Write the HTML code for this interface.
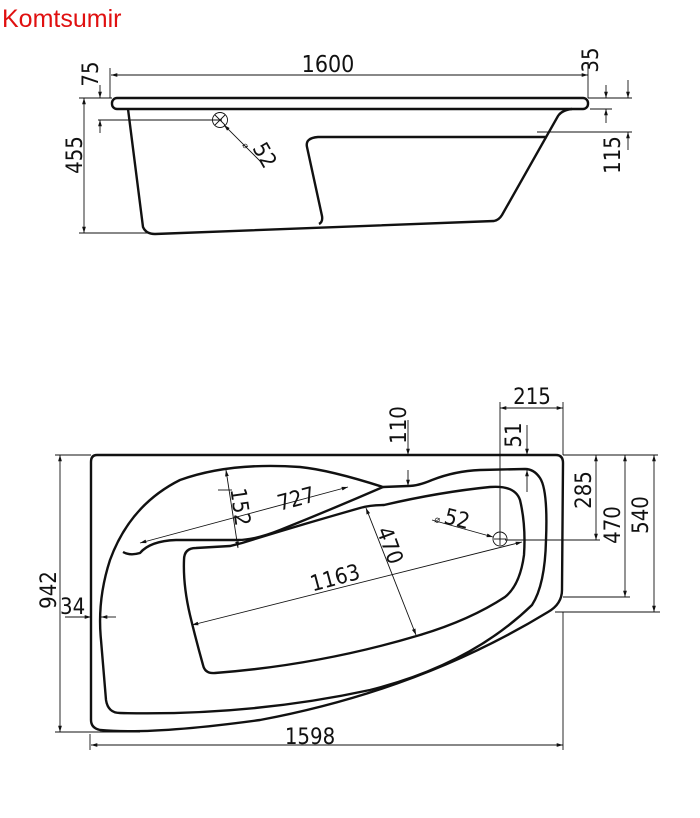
<!DOCTYPE html>
<html><head><meta charset="utf-8"><style>
html,body{margin:0;padding:0;background:#fff;width:700px;height:818px;overflow:hidden}
svg{display:block}
text{font-family:"DejaVu Sans Condensed","DejaVu Sans","Liberation Sans",sans-serif;fill:#111}
</style></head><body>
<svg width="700" height="818" viewBox="0 0 700 818" xmlns="http://www.w3.org/2000/svg">
<defs>
<marker id="a" viewBox="0 0 10 10" refX="10" refY="5" markerWidth="7" markerHeight="7" orient="auto-start-reverse"><path d="M0,2 L10,5 L0,8 z" fill="#111"/></marker>
</defs>
<text x="2" y="27" style="font-family:'Liberation Sans',sans-serif;font-size:25px;fill:#e01010">Komtsumir</text>

<!-- TOP VIEW -->
<g fill="none" stroke="#111" stroke-width="2.4">
<rect x="112" y="98" width="476" height="11" rx="5"/>
<path d="M128,109 L143,227 Q146,234 155,234 L494,221 Q499,220 502,215 L558,116 Q562,110 572,109"/>
<path d="M319,224 Q323,222 322,216 L307,147 Q305,138 318,137 L547,137"/>
</g>
<g fill="none" stroke="#111" stroke-width="0.9">
<line x1="111" y1="75" x2="588" y2="75" marker-start="url(#a)" marker-end="url(#a)"/>
<line x1="110" y1="68" x2="110" y2="98"/><line x1="588" y1="62" x2="588" y2="98"/>
<line x1="79" y1="98" x2="112" y2="98"/>
<line x1="100" y1="85" x2="100" y2="98" marker-end="url(#a)"/>
<line x1="100" y1="133" x2="100" y2="120" marker-end="url(#a)"/>
<line x1="98" y1="120" x2="222" y2="120"/>
<line x1="84" y1="98" x2="84" y2="233" marker-start="url(#a)" marker-end="url(#a)"/>
<line x1="79" y1="233" x2="150" y2="233"/>
<circle cx="220" cy="120" r="7.5"/>
<line x1="215" y1="115" x2="225" y2="125"/><line x1="215" y1="125" x2="225" y2="115"/>
<line x1="262" y1="163" x2="224" y2="125" marker-end="url(#a)"/>
<line x1="606" y1="85" x2="606" y2="98" marker-end="url(#a)"/>
<line x1="606" y1="123" x2="606" y2="109" marker-end="url(#a)"/>
<line x1="588" y1="98" x2="632" y2="98"/><line x1="590" y1="109" x2="612" y2="109"/>
<line x1="628" y1="80" x2="628" y2="98" marker-end="url(#a)"/>
<line x1="628" y1="150" x2="628" y2="132" marker-end="url(#a)"/>
<line x1="537" y1="132" x2="632" y2="132"/>
</g>
<text x="328" y="72" font-size="23" text-anchor="middle">1600</text>
<text transform="translate(98,74) rotate(-90)" font-size="22" text-anchor="middle">75</text>
<text transform="translate(82,155) rotate(-90)" font-size="22" text-anchor="middle">455</text>
<text transform="translate(598,60) rotate(-90)" font-size="22" text-anchor="middle">35</text>
<text transform="translate(620,155) rotate(-90)" font-size="22" text-anchor="middle">115</text>
<text transform="translate(252,148) rotate(60)" font-size="22">52</text>
<text transform="translate(242,145) rotate(60)" font-size="9">⌀</text>

<!-- PLAN VIEW -->
<g fill="none" stroke="#111" stroke-width="2.4">
<path d="M97,455 L556,455 Q563,455 563,463 L562,590 Q562,604 548,612 Q420,690 260,720 Q150,735 100,730 Q91,728 91,720 L91,462 Q91,455 97,455 Z"/>
<path d="M383,487 Q330,470 300,467 Q230,462 180,480 Q130,505 110,560 Q97,600 101,640 L106,700 Q108,713 120,713 Q250,716 370,690 Q470,665 532,605 Q545,585 546,540 Q548,490 540,478 Q534,469 525,469 L480,470 Q455,471 432,480 Q418,486 408,486 Z"/>
<path d="M383,487 Q330,510 280,530 Q255,540 238,540 L176,540 Q150,541 140,553 Q130,556 123,552"/>
<path d="M242,543 Q300,525 360,508 Q370,505 384,505 Q440,492 490,487 Q515,485 520,500 Q526,525 524,555 Q520,585 505,597 Q470,620 420,635 Q320,665 215,673 Q205,674 203,665 Q196,640 190,615 Q183,585 184,560 Q184,548 196,548 L230,546 Z"/>
</g>
<g fill="none" stroke="#111" stroke-width="0.9">
<line x1="91" y1="745" x2="563" y2="745" marker-start="url(#a)" marker-end="url(#a)"/>
<line x1="90" y1="734" x2="90" y2="750"/><line x1="563" y1="612" x2="563" y2="750"/>
<line x1="60" y1="455" x2="60" y2="732" marker-start="url(#a)" marker-end="url(#a)"/>
<line x1="55" y1="455" x2="91" y2="455"/><line x1="55" y1="732" x2="140" y2="732"/>
<line x1="65" y1="617" x2="91" y2="617" marker-end="url(#a)"/>
<line x1="116" y1="617" x2="101" y2="617" marker-end="url(#a)"/>
<line x1="408" y1="420" x2="408" y2="455" marker-end="url(#a)"/>
<line x1="408" y1="470" x2="408" y2="486" marker-end="url(#a)"/>
<line x1="500" y1="408" x2="563" y2="408" marker-start="url(#a)" marker-end="url(#a)"/>
<line x1="500" y1="402" x2="500" y2="541"/><line x1="563" y1="402" x2="563" y2="455"/>
<line x1="527" y1="425" x2="527" y2="455" marker-end="url(#a)"/>
<line x1="527" y1="492" x2="527" y2="470" marker-end="url(#a)"/>
<line x1="563" y1="455" x2="658" y2="455"/>
<line x1="596" y1="455" x2="596" y2="540" marker-start="url(#a)" marker-end="url(#a)"/>
<line x1="505" y1="540" x2="600" y2="540"/>
<line x1="625" y1="455" x2="625" y2="597" marker-start="url(#a)" marker-end="url(#a)"/>
<line x1="563" y1="597" x2="630" y2="597"/>
<line x1="654" y1="455" x2="654" y2="612" marker-start="url(#a)" marker-end="url(#a)"/>
<line x1="555" y1="612" x2="660" y2="612"/>
<circle cx="500" cy="539" r="7"/>
<line x1="494" y1="539" x2="506" y2="539"/><line x1="500" y1="533" x2="500" y2="545"/>
<line x1="432" y1="520" x2="493" y2="537" marker-end="url(#a)"/>
<line x1="192" y1="625" x2="522" y2="542" marker-start="url(#a)" marker-end="url(#a)"/>
<line x1="366" y1="508" x2="416" y2="635" marker-start="url(#a)" marker-end="url(#a)"/>
<line x1="140" y1="543" x2="348" y2="487" marker-start="url(#a)" marker-end="url(#a)"/>
<line x1="226" y1="470" x2="238" y2="548" marker-start="url(#a)" marker-end="url(#a)"/>
<line x1="218" y1="490" x2="232" y2="490"/>
</g>
<text x="310" y="744" font-size="22" text-anchor="middle">1598</text>
<text transform="translate(56,590) rotate(-90)" font-size="22" text-anchor="middle">942</text>
<text x="60" y="614" font-size="22">34</text>
<text transform="translate(406,425) rotate(-90)" font-size="22" text-anchor="middle">110</text>
<text x="532" y="404" font-size="22" text-anchor="middle">215</text>
<text transform="translate(521,435) rotate(-90)" font-size="22" text-anchor="middle">51</text>
<text transform="translate(591,490) rotate(-90)" font-size="22" text-anchor="middle">285</text>
<text transform="translate(620,525) rotate(-90)" font-size="22" text-anchor="middle">470</text>
<text transform="translate(648,515) rotate(-90)" font-size="22" text-anchor="middle">540</text>
<text transform="translate(443,523) rotate(14)" font-size="22">52</text>
<text transform="translate(434,522) rotate(14)" font-size="10">⌀</text>
<text transform="translate(337,585) rotate(-15)" font-size="22" text-anchor="middle">1163</text>
<text transform="translate(383,548) rotate(70)" font-size="22" text-anchor="middle">470</text>
<text transform="translate(298,506) rotate(-15)" font-size="22" text-anchor="middle">727</text>
<text transform="translate(233,508) rotate(82)" font-size="22" text-anchor="middle">152</text>
</svg>
</body></html>
